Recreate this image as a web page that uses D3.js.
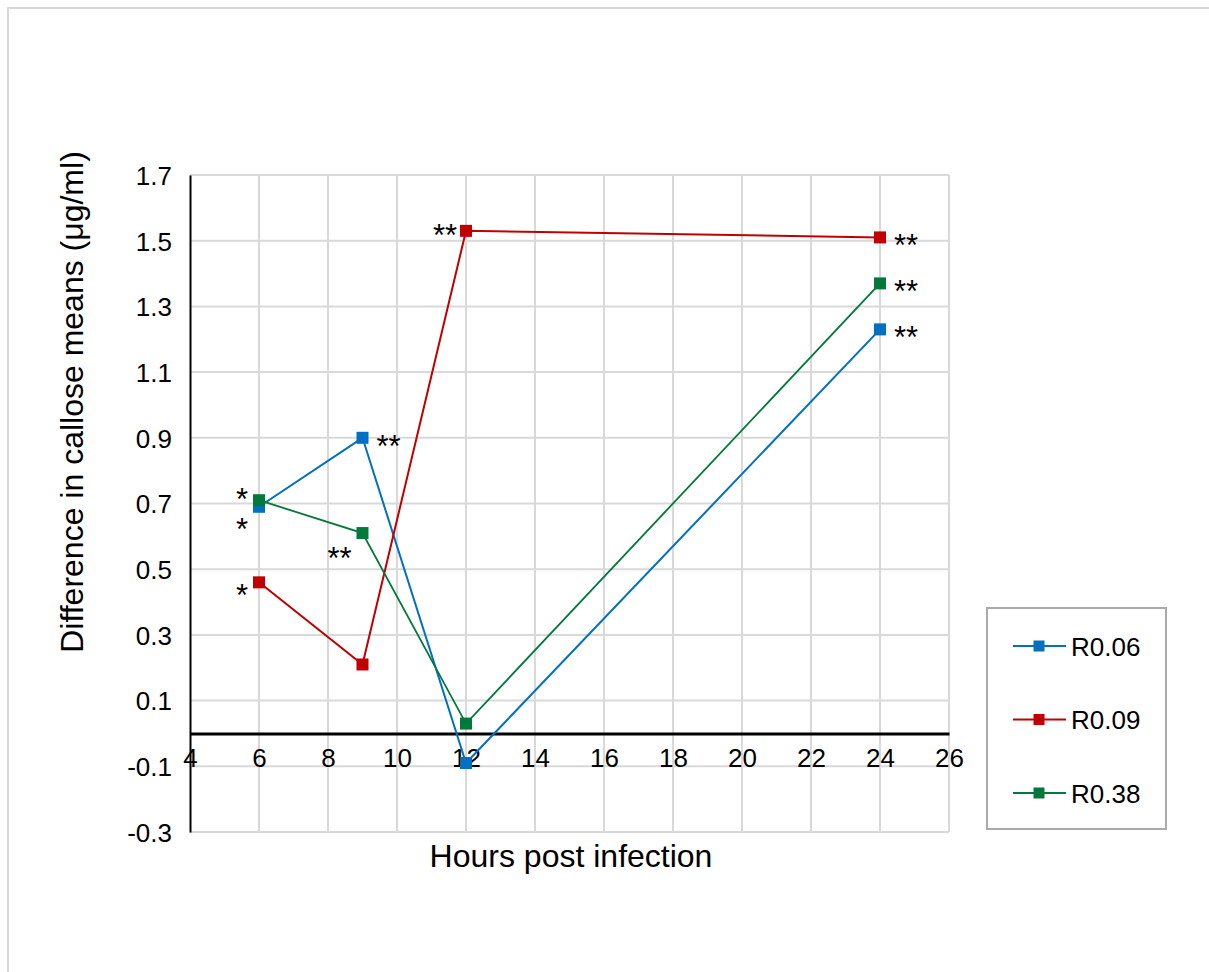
<!DOCTYPE html>
<html>
<head>
<meta charset="utf-8">
<script src="https://cdn.jsdelivr.net/npm/d3@7"></script>
<style>
  html, body { margin: 0; padding: 0; background: #fff; }
  svg { display: block; font-family: "Liberation Sans", Arial, sans-serif; }
</style>
</head>
<body>
<svg id="chart" width="1209" height="972"></svg>
<script>
// Sampling times (hours post infection)
const hours = [6, 9, 12, 24];

// Difference in callose means (µg/ml) for each line
const seriesNames = ["R0.06", "R0.09", "R0.38"];
const r006 = [0.69, 0.90, -0.09, 1.23];
const r009 = [0.46, 0.21, 1.53, 1.51];
const r038 = [0.71, 0.61, 0.03, 1.37];

// Axis ticks
const xTicks = [4, 6, 8, 10, 12, 14, 16, 18, 20, 22, 24, 26];
const yTicks = [-0.3, -0.1, 0.1, 0.3, 0.5, 0.7, 0.9, 1.1, 1.3, 1.5, 1.7];

// Significance marks: series, hour, label, where the mark sits
const sigSeries = ["R0.38", "R0.06", "R0.09", "R0.06", "R0.38", "R0.09", "R0.09", "R0.38", "R0.06"];
const sigHours  = [6, 6, 6, 9, 9, 12, 24, 24, 24];
const sigLabels = ["*", "*", "*", "**", "**", "**", "**", "**", "**"];
const sigPlace  = ["upperleft", "lowerleft", "left", "right", "lowerleft2", "left2", "right", "right", "right"];

const colors = { "R0.06": "#0070C0", "R0.09": "#C00000", "R0.38": "#00793A" };
const values = { "R0.06": r006, "R0.09": r009, "R0.38": r038 };

const svg = d3.select("#chart");

// chart-area frame
svg.append("rect")
  .attr("x", 8).attr("y", 8).attr("width", 1220).attr("height", 990)
  .attr("fill", "none").attr("stroke", "#d9d9d9").attr("stroke-width", 2);

const plotL = 190, plotR = 949, plotT = 175, plotB = 832;
const x = d3.scaleLinear().domain([4, 26]).range([plotL, plotR]);
const y = d3.scaleLinear().domain([-0.3, 1.7]).range([plotB, plotT]);

// gridlines
const grid = svg.append("g");
grid.selectAll("line.v").data(xTicks.slice(1)).join("line")
  .attr("class", "v")
  .attr("x1", d => x(d)).attr("x2", d => x(d))
  .attr("y1", plotT).attr("y2", plotB)
  .attr("stroke", "#d9d9d9").attr("stroke-width", 2);
grid.selectAll("line.h").data(yTicks).join("line")
  .attr("class", "h")
  .attr("x1", plotL).attr("x2", plotR)
  .attr("y1", d => y(d)).attr("y2", d => y(d))
  .attr("stroke", "#d9d9d9").attr("stroke-width", 2);

// plain hyphen for negatives
const fmtY = d => d3.format(".1f")(d).replace("\u2212", "-");

// y axis
const yAxis = svg.append("g")
  .attr("transform", `translate(${plotL},0)`)
  .call(d3.axisLeft(y).tickValues(yTicks).tickSize(0).tickPadding(18)
        .tickFormat(fmtY));
yAxis.select(".domain").attr("stroke", "#000").attr("stroke-width", 2);
yAxis.selectAll("text").attr("font-size", 26).attr("fill", "#000")
  .attr("font-family", "Liberation Sans, Arial, sans-serif")
  .attr("dy", "0.36em");

// x axis sitting on zero
const xAxis = svg.append("g")
  .attr("transform", `translate(0,${y(0)})`)
  .call(d3.axisBottom(x).tickValues(xTicks).tickSize(0).tickPadding(24)
        .tickFormat(d3.format("d")));
xAxis.select(".domain").attr("stroke", "#000").attr("stroke-width", 3);
xAxis.selectAll("text").attr("font-size", 26).attr("fill", "#000")
  .attr("font-family", "Liberation Sans, Arial, sans-serif")
  .attr("dy", "0.36em");

// series lines and markers
const line = d3.line().x((d, i) => x(hours[i])).y(d => y(d));
seriesNames.forEach(name => {
  const g = svg.append("g");
  g.append("path")
    .datum(values[name])
    .attr("d", line)
    .attr("fill", "none")
    .attr("stroke", colors[name])
    .attr("stroke-width", name === "R0.38" ? 1.8 : 2);
  g.selectAll("rect").data(values[name]).join("rect")
    .attr("x", (d, i) => x(hours[i]) - 6)
    .attr("y", d => y(d) - 6)
    .attr("width", 12).attr("height", 12)
    .attr("fill", colors[name]);
});

// significance marks
const offsets = {
  upperleft:  [-17, -8],
  lowerleft:  [-17, 15],
  left:       [-17, 6],
  right:      [26, 1],
  lowerleft2: [-23, 18],
  left2:      [-21, -3]
};
sigLabels.forEach((lab, i) => {
  const name = sigSeries[i];
  const idx = hours.indexOf(sigHours[i]);
  const px = x(sigHours[i]), py = y(values[name][idx]);
  const [dx, dy] = offsets[sigPlace[i]];
  svg.append("text")
    .attr("x", px + dx).attr("y", py + dy + 18)
    .attr("text-anchor", "middle")
    .attr("font-size", 31)
    .attr("fill", "#000")
    .text(lab);
});

// axis titles
svg.append("text")
  .attr("x", 571).attr("y", 867)
  .attr("text-anchor", "middle").attr("font-size", 32).attr("fill", "#000")
  .text("Hours post infection");
svg.append("text")
  .attr("transform", "translate(83,402) rotate(-90)")
  .attr("text-anchor", "middle").attr("font-size", 32).attr("fill", "#000")
  .text("Difference in callose means (μg/ml)");

// legend
const legend = svg.append("g");
legend.append("rect")
  .attr("x", 987).attr("y", 608).attr("width", 179).attr("height", 221)
  .attr("fill", "#fff").attr("stroke", "#aaaaaa").attr("stroke-width", 2);
const legendY = d3.scalePoint().domain(seriesNames).range([646, 793]);
seriesNames.forEach(name => {
  const ly = legendY(name);
  legend.append("line")
    .attr("x1", 1013).attr("x2", 1066).attr("y1", ly).attr("y2", ly)
    .attr("stroke", colors[name]).attr("stroke-width", 2);
  legend.append("rect")
    .attr("x", 1039 - 5.5).attr("y", ly - 5.5).attr("width", 11).attr("height", 11)
    .attr("fill", colors[name]);
  legend.append("text")
    .attr("x", 1071).attr("y", ly + 9.5)
    .attr("font-size", 26).attr("fill", "#000")
    .text(name);
});
</script>
</body>
</html>
